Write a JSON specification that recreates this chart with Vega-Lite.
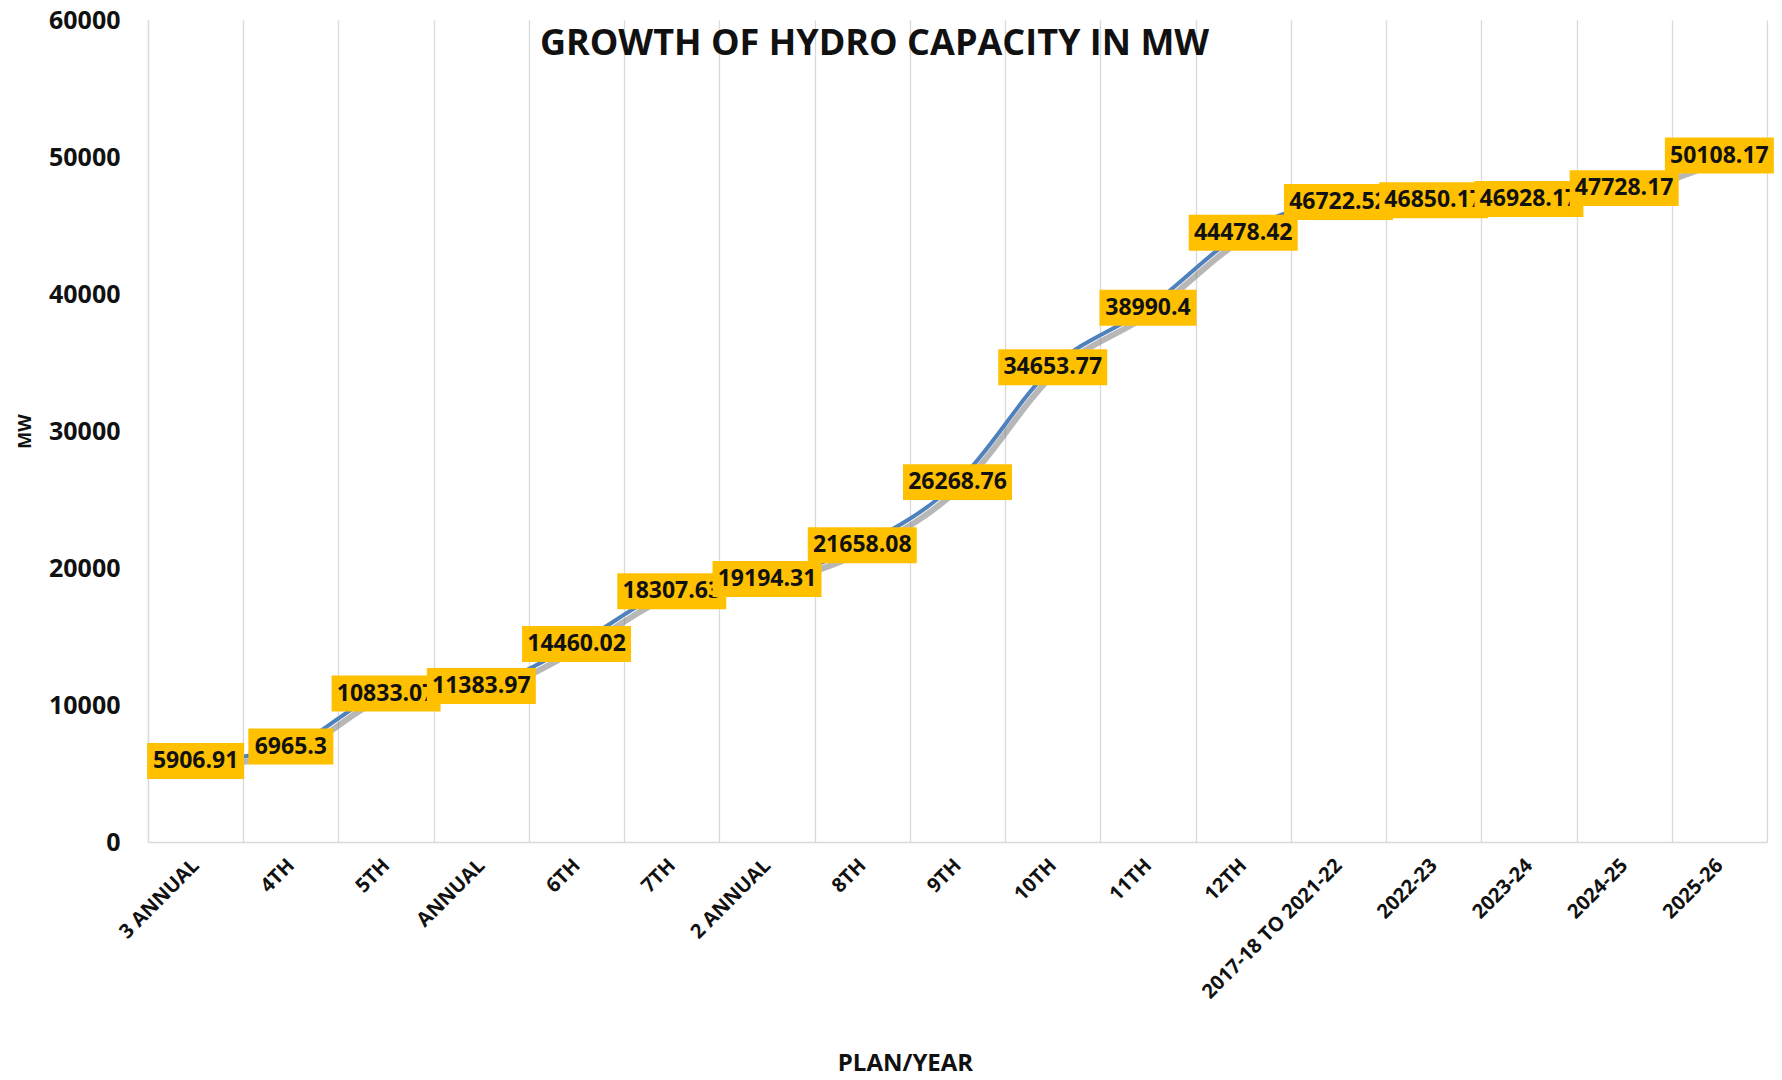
{
  "$schema": "https://vega.github.io/schema/vega-lite/v6.json",
  "width": 1619,
  "height": 822,
  "autosize": {"type": "none"},
  "padding": {"left": 148, "top": 20, "right": 15, "bottom": 238},
  "background": "white",
  "title": {"text": "GROWTH OF HYDRO CAPACITY IN MW", "font": "Open Sans", "fontSize": 36, "fontWeight": "bold", "color": "#111111", "anchor": "middle", "dx": -83, "offset": -83, "baseline": "alphabetic"},
  "config": {"view": {"stroke": null}, "font": "Open Sans"},
  "data": {"values": [
    {"i": 0, "plan": "3 ANNUAL", "mw": 5906.91},
    {"i": 1, "plan": "4TH", "mw": 6965.3},
    {"i": 2, "plan": "5TH", "mw": 10833.07},
    {"i": 3, "plan": "ANNUAL", "mw": 11383.97},
    {"i": 4, "plan": "6TH", "mw": 14460.02},
    {"i": 5, "plan": "7TH", "mw": 18307.63},
    {"i": 6, "plan": "2 ANNUAL", "mw": 19194.31},
    {"i": 7, "plan": "8TH", "mw": 21658.08},
    {"i": 8, "plan": "9TH", "mw": 26268.76},
    {"i": 9, "plan": "10TH", "mw": 34653.77},
    {"i": 10, "plan": "11TH", "mw": 38990.4},
    {"i": 11, "plan": "12TH", "mw": 44478.42},
    {"i": 12, "plan": "2017-18 TO 2021-22", "mw": 46722.52},
    {"i": 13, "plan": "2022-23", "mw": 46850.17},
    {"i": 14, "plan": "2023-24", "mw": 46928.17},
    {"i": 15, "plan": "2024-25", "mw": 47728.17},
    {"i": 16, "plan": "2025-26", "mw": 50108.17}
  ]},
  "encoding": {
    "x": {"field": "plan", "type": "nominal", "sort": null,
      "scale": {"type": "band", "paddingInner": 0, "paddingOuter": 0,
        "domain": ["3 ANNUAL", "4TH", "5TH", "ANNUAL", "6TH", "7TH", "2 ANNUAL", "8TH", "9TH", "10TH", "11TH", "12TH", "2017-18 TO 2021-22", "2022-23", "2023-24", "2024-25", "2025-26"]},
      "axis": {"title": "PLAN/YEAR", "titleFont": "Open Sans", "titleFontSize": 24, "titleFontWeight": "bold", "titleColor": "#111111", "titleX": 757, "titleY": 221, "titleBaseline": "middle", "titleAlign": "center",
        "labelAngle": -45, "labelAlign": "right", "labelBaseline": "middle", "labelFontSize": 20, "labelFontWeight": "bold", "labelColor": "#111111", "labelPadding": 20, "labelOverlap": false, "labelLimit": 400,
        "ticks": false, "grid": true, "tickBand": "extent", "gridColor": "#d9d9d9", "gridWidth": 1.3, "domainColor": "#d9d9d9", "domainWidth": 1.3}},
    "y": {"field": "mw", "type": "quantitative",
      "scale": {"domain": [0, 60000], "nice": false, "zero": true},
      "axis": {"title": "MW", "titleFontSize": 18, "titleFontWeight": "bold", "titleColor": "#111111", "titleX": -123, "titleY": 411, "titleBaseline": "middle",
        "values": [0, 10000, 20000, 30000, 40000, 50000, 60000], "format": "d",
        "labelFontSize": 25, "labelFontWeight": "bold", "labelColor": "#111111", "labelPadding": 28,
        "ticks": false, "grid": false, "domainColor": "#d9d9d9", "domainWidth": 1.3}}
  },
  "layer": [
    {"mark": {"type": "line", "color": "#6f6f6f", "opacity": 0.5, "strokeWidth": 6, "xOffset": 3, "yOffset": 5, "interpolate": "monotone"}},
    {"mark": {"type": "line", "color": "#4f81bd", "strokeWidth": 4, "interpolate": "monotone"}},
    {"transform": [{"filter": "datum.i % 4 == 0"}],
     "mark": {"type": "point", "filled": true, "color": "#ffc000", "opacity": 1, "strokeWidth": 0},
     "encoding": {
       "size": {"condition": [{"test": "length(toString(datum.mw)) <= 6", "value": 7225}, {"test": "length(toString(datum.mw)) == 7", "value": 9409}], "value": 11881},
       "shape": {"condition": [{"test": "length(toString(datum.mw)) <= 6", "value": "M-1,-0.424H1V0.424H-1Z"}, {"test": "length(toString(datum.mw)) == 7", "value": "M-1,-0.371H1V0.371H-1Z"}], "value": "M-1,-0.33H1V0.33H-1Z"}}},
    {"transform": [{"filter": "datum.i % 4 == 0"}],
     "mark": {"type": "text", "font": "Open Sans", "fontSize": 23, "fontWeight": "bold", "color": "#111111", "align": "center", "baseline": "middle"},
     "encoding": {"text": {"field": "mw", "type": "nominal"}}},
    {"transform": [{"filter": "datum.i % 4 == 1"}],
     "mark": {"type": "point", "filled": true, "color": "#ffc000", "opacity": 1, "strokeWidth": 0},
     "encoding": {
       "size": {"condition": [{"test": "length(toString(datum.mw)) <= 6", "value": 7225}, {"test": "length(toString(datum.mw)) == 7", "value": 9409}], "value": 11881},
       "shape": {"condition": [{"test": "length(toString(datum.mw)) <= 6", "value": "M-1,-0.424H1V0.424H-1Z"}, {"test": "length(toString(datum.mw)) == 7", "value": "M-1,-0.371H1V0.371H-1Z"}], "value": "M-1,-0.33H1V0.33H-1Z"}}},
    {"transform": [{"filter": "datum.i % 4 == 1"}],
     "mark": {"type": "text", "font": "Open Sans", "fontSize": 23, "fontWeight": "bold", "color": "#111111", "align": "center", "baseline": "middle"},
     "encoding": {"text": {"field": "mw", "type": "nominal"}}},
    {"transform": [{"filter": "datum.i % 4 == 2"}],
     "mark": {"type": "point", "filled": true, "color": "#ffc000", "opacity": 1, "strokeWidth": 0},
     "encoding": {
       "size": {"condition": [{"test": "length(toString(datum.mw)) <= 6", "value": 7225}, {"test": "length(toString(datum.mw)) == 7", "value": 9409}], "value": 11881},
       "shape": {"condition": [{"test": "length(toString(datum.mw)) <= 6", "value": "M-1,-0.424H1V0.424H-1Z"}, {"test": "length(toString(datum.mw)) == 7", "value": "M-1,-0.371H1V0.371H-1Z"}], "value": "M-1,-0.33H1V0.33H-1Z"}}},
    {"transform": [{"filter": "datum.i % 4 == 2"}],
     "mark": {"type": "text", "font": "Open Sans", "fontSize": 23, "fontWeight": "bold", "color": "#111111", "align": "center", "baseline": "middle"},
     "encoding": {"text": {"field": "mw", "type": "nominal"}}},
    {"transform": [{"filter": "datum.i % 4 == 3"}],
     "mark": {"type": "point", "filled": true, "color": "#ffc000", "opacity": 1, "strokeWidth": 0},
     "encoding": {
       "size": {"condition": [{"test": "length(toString(datum.mw)) <= 6", "value": 7225}, {"test": "length(toString(datum.mw)) == 7", "value": 9409}], "value": 11881},
       "shape": {"condition": [{"test": "length(toString(datum.mw)) <= 6", "value": "M-1,-0.424H1V0.424H-1Z"}, {"test": "length(toString(datum.mw)) == 7", "value": "M-1,-0.371H1V0.371H-1Z"}], "value": "M-1,-0.33H1V0.33H-1Z"}}},
    {"transform": [{"filter": "datum.i % 4 == 3"}],
     "mark": {"type": "text", "font": "Open Sans", "fontSize": 23, "fontWeight": "bold", "color": "#111111", "align": "center", "baseline": "middle"},
     "encoding": {"text": {"field": "mw", "type": "nominal"}}}
  ]
}
